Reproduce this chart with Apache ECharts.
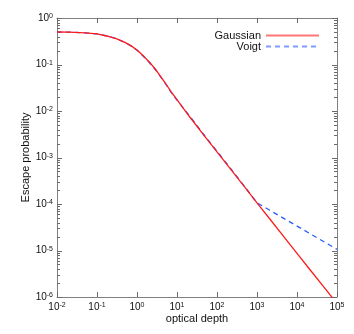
<!DOCTYPE html>
<html>
<head>
<meta charset="utf-8">
<script src="https://cdn.jsdelivr.net/npm/echarts@6/dist/echarts.min.js"></script>
<style>html,body{margin:0;padding:0;background:#fff;}#c{width:354px;height:334px;}</style>
</head>
<body>
<div id="c"></div>
<script>
var tau = [0.01, 0.02, 0.05, 0.1, 0.2, 0.3, 0.5, 0.7, 1, 1.5, 2, 3, 5, 7, 10, 20, 50, 100, 200, 500, 1000, 2000, 5000, 1e4, 2e4, 5e4, 1e5];
var gaussian = [0.50, 0.497, 0.48, 0.455, 0.40, 0.36, 0.30, 0.255, 0.205, 0.148, 0.115, 0.076, 0.041, 0.0265, 0.0175, 0.0078, 0.0028, 1.32e-3, 6.2e-4, 2.28e-4, 1.06e-4, 5.0e-5, 1.85e-5, 8.7e-6, 4.1e-6, 1.53e-6, 7.2e-7];
var voigt = [0.50, 0.497, 0.48, 0.455, 0.40, 0.36, 0.298, 0.252, 0.202, 0.145, 0.112, 0.074, 0.040, 0.0258, 0.0172, 0.0081, 0.0029, 1.36e-3, 6.4e-4, 2.32e-4, 1.06e-4, 7.5e-5, 4.74e-5, 3.35e-5, 2.37e-5, 1.5e-5, 1.06e-5];
var seriesNames = ['Gaussian', 'Voigt'];
var xName = 'optical depth';
var yName = 'Escape probability';
var xRange = [0.01, 1e5];
var yRange = [1e-6, 1];
var xMajorTicks = [0.01, 0.1, 1, 10, 100, 1000, 1e4, 1e5];
var yMajorTicks = [1e-6, 1e-5, 1e-4, 1e-3, 1e-2, 1e-1, 1];
var yMinorTicks = [];
for (var e = -6; e < 0; e++) { for (var k = 2; k <= 9; k++) { yMinorTicks.push(k * Math.pow(10, e)); } }

var FONT = 'Liberation Sans, Arial, Helvetica, sans-serif';
var AX = '#808080';
var TK = '#6a6a6a';
function pow10Label(v) {
  var ex = Math.round(Math.log10(v));
  return '{a|10}{b|' + ex + '}';
}
var rich = {
  a: { fontSize: 10, fontFamily: FONT, color: '#111' },
  b: { fontSize: 7, fontFamily: FONT, color: '#111', verticalAlign: 'top' }
};
function pair(a, b) { return a.map(function (t, i) { return [t, b[i]]; }); }
var legendText = { fontSize: 11, fontFamily: FONT, color: '#111' };

function tickLine(x1, y1, x2, y2) {
  return { type: 'line', shape: { x1: x1, y1: y1, x2: x2, y2: y2 },
           style: { stroke: TK, lineWidth: 1 }, silent: true };
}
function xTickRender(params, api) {
  var v = api.value(0);
  var pb = api.coord([v, yRange[0]]);
  var pt = api.coord([v, yRange[1]]);
  var x = Math.round(pb[0]) + 0.5;
  return { type: 'group', children: [
    tickLine(x, pb[1], x, pb[1] - 5),
    tickLine(x, pt[1], x, pt[1] + 5)
  ] };
}
function yTickRenderer(len) {
  return function (params, api) {
    var v = api.value(1);
    var pl = api.coord([xRange[0], v]);
    var pr = api.coord([xRange[1], v]);
    var y = Math.round(pl[1]) + 0.5;
    return { type: 'group', children: [
      tickLine(pl[0], y, pl[0] + len, y),
      tickLine(pr[0], y, pr[0] - len, y)
    ] };
  };
}

var axisCommon = {
  axisLine: { show: true, lineStyle: { color: AX, width: 1 } },
  axisTick: { show: false },
  splitLine: { show: false }
};

var chart = echarts.init(document.getElementById('c'), null, { renderer: 'canvas' });
chart.setOption({
  animation: false,
  backgroundColor: '#fff',
  tooltip: { show: false },
  grid: { left: 57, right: 17, top: 18, bottom: 37, outerBoundsMode: 'none' },
  legend: [
    { data: [seriesNames[0]], right: 34, top: 30, padding: 0, orient: 'vertical', align: 'right',
      itemWidth: 53, itemHeight: 10, itemStyle: { opacity: 0 }, lineStyle: { opacity: 0.6 },
      textStyle: legendText },
    { data: [seriesNames[1]], right: 34, top: 41, padding: 0, orient: 'vertical', align: 'right',
      itemWidth: 53, itemHeight: 10, itemStyle: { opacity: 0 }, lineStyle: { opacity: 0.6 },
      textStyle: legendText }
  ],
  xAxis: [
    Object.assign({ type: 'log', min: xRange[0], max: xRange[1], position: 'bottom',
      axisLabel: { show: true, margin: 5, formatter: pow10Label, rich: rich },
      name: xName, nameLocation: 'middle', nameGap: 16, nameMoveOverlap: false,
      nameTextStyle: { fontSize: 11, fontFamily: FONT, color: '#111' } }, axisCommon),
    Object.assign({ type: 'log', min: xRange[0], max: xRange[1], position: 'top',
      axisLabel: { show: false } }, axisCommon)
  ],
  yAxis: [
    Object.assign({ type: 'log', min: yRange[0], max: yRange[1], position: 'left',
      axisLabel: { show: true, margin: 4, formatter: pow10Label, rich: rich },
      name: yName, nameLocation: 'middle', nameGap: 26, nameMoveOverlap: false,
      nameTextStyle: { fontSize: 11, fontFamily: FONT, color: '#111' } }, axisCommon),
    Object.assign({ type: 'log', min: yRange[0], max: yRange[1], position: 'right',
      axisLabel: { show: false } }, axisCommon)
  ],
  series: [
    { name: seriesNames[0], type: 'line', xAxisIndex: 0, yAxisIndex: 0, data: pair(tau, gaussian),
      showSymbol: false, symbol: 'none', clip: true, z: 3,
      lineStyle: { color: '#ff1a1a', width: 1.3 }, itemStyle: { color: '#ff1a1a' } },
    { name: seriesNames[1], type: 'line', xAxisIndex: 0, yAxisIndex: 0, data: pair(tau, voigt),
      showSymbol: false, symbol: 'none', clip: true, z: 2,
      lineStyle: { color: '#2a5cff', width: 1.3, type: [5, 4] }, itemStyle: { color: '#2a5cff' } },
    { name: 'xticks', type: 'custom', xAxisIndex: 0, yAxisIndex: 0, silent: true, z: 1,
      data: xMajorTicks.map(function (v) { return [v, yRange[0]]; }),
      encode: { x: 0, y: 1 }, renderItem: xTickRender },
    { name: 'ymajor', type: 'custom', xAxisIndex: 0, yAxisIndex: 0, silent: true, z: 1,
      data: yMajorTicks.map(function (v) { return [xRange[0], v]; }),
      encode: { x: 0, y: 1 }, renderItem: yTickRenderer(5) },
    { name: 'yminor', type: 'custom', xAxisIndex: 0, yAxisIndex: 0, silent: true, z: 1,
      data: yMinorTicks.map(function (v) { return [xRange[0], v]; }),
      encode: { x: 0, y: 1 }, renderItem: yTickRenderer(3) }
  ]
});
</script>
</body>
</html>
